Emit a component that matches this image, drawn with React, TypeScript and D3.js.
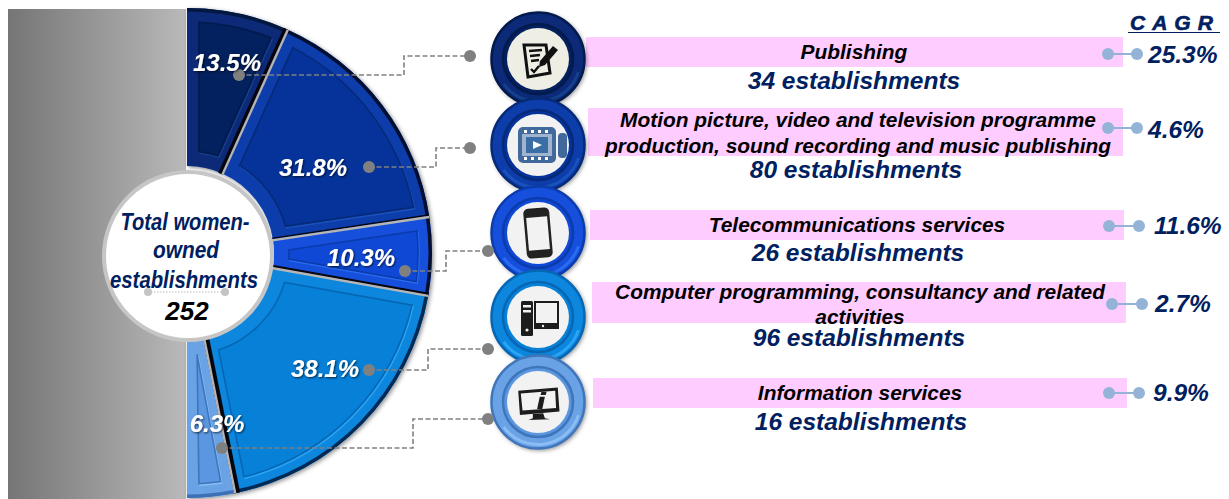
import React from 'react'
import * as d3 from 'd3'

// values
const sectors = ['Publishing', 'Motion picture', 'Telecommunications', 'Computer programming', 'Information services']
const shares = [13.5, 31.8, 10.3, 38.1, 6.3]
const titles = [
  ['Publishing'],
  ['Motion picture, video and television programme', 'production, sound recording and music publishing'],
  ['Telecommunications services'],
  ['Computer programming, consultancy and related', 'activities'],
  ['Information services'],
]
const counts = [34, 80, 26, 96, 16]
const cagr = ['25.3%', '4.6%', '11.6%', '2.7%', '9.9%']
const total = 252

// layout and styling, kept apart from the values
const colors = ['#04215f', '#06339a', '#0f48d4', '#0780d8', '#5b96e0']
const frames = ['#0a2c78', '#0a3eaa', '#1650dc', '#0a86de', '#6aa2e6']
const ringDark = ['#021a4c', '#062a78', '#0b3cae', '#0567b4', '#3f76bb']
const ringLight = ['#14408c', '#1a52bd', '#2a6cf0', '#2aa4f4', '#8bbcf4']
const rimColors = ['#03183f', '#020f30', '#020f30', '#032a55', '#3d70b5']
const edgeBlack = [5, 1.5, 2.5, 6]
const labelPos = [[227, 63], [313, 168], [361, 258], [325, 369], [217, 424]]
const dotPos = [[239, 75], [369, 167], [405, 271], [369, 370], [222, 448]]
const elbowX = [404, 436, 446, 428, 413]
const endPos = [[470, 56], [470, 148], [488, 251], [488, 349], [488, 419]]
const iconY = [59, 145, 233, 317, 402]
const barX = [586, 588, 590, 592, 593]
const barRight = [1123, 1123, 1124, 1126, 1127]
const barY = [37, 108, 210, 282, 378]
const barH = [30, 48, 30, 41, 30]
const titleX = [854, 858, 857, 860, 860]
const textY = [59, 127, 232, 299, 400]
const lineGap = [0, 26, 0, 25, 0]
const countY = [89, 178, 261, 346, 430]
const countX = [854, 856, 858, 859, 861]
const cagrY = [54, 128, 226, 304, 393]
const cagrX = [1108, 1108, 1109, 1112, 1109]
const cagrEnd = [1137, 1137, 1139, 1142, 1139]
const cagrTextX = [1148, 1148, 1154, 1155, 1153]
const cagrBase = [63, 138, 234, 312, 401]

const cx = 187
const cy = 253
const R = 245
const r0 = 84
const font = "'Liberation Sans', Arial, sans-serif"
const navy = '#002060'
const grey = '#808080'

function Icon({ i }: { i: number }) {
  if (i === 0) {
    return (
      <g stroke="#111" fill="none" strokeWidth={2.4}>
        <path d="M-14,-14 L8,-14 L12,14 L-10,18 Z" strokeWidth={3} />
        <path d="M-9,-8 L4,-9 M-8,-3 L2,-4 M-7,2 L1,1" />
        <path d="M-7,10 L-4,13 L1,7" />
        <path d="M2,2 L15,-13 L20,-9 L7,6 L1,8 Z" fill="#111" stroke="none" />
      </g>
    )
  }
  if (i === 1) {
    return (
      <g fill="#41699c">
        <rect x={-20} y={-18} width={38} height={36} rx={5} />
        <rect x={-16} y={-11} width={30} height={22} fill="#fff" opacity={0.5} />
        <rect x={-12} y={-8} width={22} height={16} fill="#3a6ea5" />
        <path d="M-5,-4 L4,0 L-5,4 Z" fill="#fff" />
        {[-14, -7, 0, 7].map(x => (
          <g key={x}>
            <rect x={x} y={-15} width={3} height={3} fill="#fff" />
            <rect x={x} y={12} width={3} height={3} fill="#fff" />
          </g>
        ))}
        <rect x={20} y={-12} width={9} height={25} rx={4} />
      </g>
    )
  }
  if (i === 2) {
    return (
      <g transform="rotate(-5)">
        <rect x={-13} y={-25} width={26} height={50} rx={5} fill="#222" />
        <rect x={-10.5} y={-16} width={21} height={33} fill="#f2f2f2" />
      </g>
    )
  }
  if (i === 3) {
    return (
      <g fill="#1c1c1c">
        <rect x={-17} y={-16} width={12} height={35} rx={1.5} />
        <rect x={-15} y={-12} width={8} height={2.5} fill="#f2f2f2" />
        <rect x={-15} y={-7} width={8} height={2.5} fill="#f2f2f2" />
        <circle cx={-11} cy={13} r={1.6} fill="#f2f2f2" />
        <path d="M-4,-16 H21 V12 H-4 Z M-2,-14 V6 H19 V-14 Z" fillRule="evenodd" />
        <circle cx={5} cy={9} r={1.2} fill="#f2f2f2" />
      </g>
    )
  }
  return (
    <g fill="#1c1c1c" transform="scale(0.86)">
      <path d="M-23,-13 L23,-17 L25,11 L-21,15 Z M-20,-10 L-18,10 L21,7 L20,-13 Z" fillRule="evenodd" />
      <path d="M-6,14 L6,13 L8,19 L14,20 L-11,21 L-6,19 Z" />
      <path d="M4,-12 L10,-12 L9,-8 L3,-8 Z M2,-6 L8,-6 L5,8 L-1,8 Z" />
    </g>
  )
}

export default function App() {
  const pie = d3.pie<number>().sort(null).startAngle(0).endAngle(Math.PI)
  const arcs = pie(shares)
  const slice = d3.arc<d3.PieArcDatum<number>>().innerRadius(r0 + 3).outerRadius(R)
  const rim = d3.arc<d3.PieArcDatum<number>>().innerRadius(R - 3.5).outerRadius(R)
  const panel = d3.arc<d3.PieArcDatum<number>>()
    .innerRadius(r0 + 18).outerRadius(R - 14).padAngle(0.13).padRadius(R * 0.75)
  const ring = d3.arc<any>()

  const edges = arcs.slice(0, -1).map(a => a.endAngle)

  return (
    <svg width={1229} height={499} style={{ position: 'absolute', left: 0, top: 0, background: '#fff' }}>
      <defs>
        <linearGradient id="side" x1="0" x2="1" y1="0" y2="0">
          <stop offset="0" stopColor="#757575" />
          <stop offset="1" stopColor="#b9b9b9" />
        </linearGradient>
        <filter id="soft" x="-20%" y="-20%" width="140%" height="140%">
          <feDropShadow dx={1.5} dy={1.5} stdDeviation={2} floodColor="#000" floodOpacity={0.45} />
        </filter>
        <filter id="txt" x="-20%" y="-30%" width="140%" height="160%">
          <feDropShadow dx={1} dy={1} stdDeviation={1} floodColor="#000" floodOpacity={0.7} />
        </filter>
      </defs>

      <rect x={8} y={9} width={178} height={490} fill="url(#side)" />

      <g transform={`translate(${cx},${cy})`}>
        <g filter="url(#soft)">
          {arcs.map((a, i) => (
            <path key={sectors[i]} d={slice(a) || ''} fill={frames[i]} />
          ))}
        </g>
        {arcs.map((a, i) => (
          <g key={sectors[i]}>
            <path d={rim(a) || ''} fill={rimColors[i]} />
            <path d={panel(a) || ''} fill="none" stroke={ringLight[i]} strokeWidth={1.6} transform="translate(1,1.5)" />
            <path d={panel(a) || ''} fill={colors[i]} stroke={ringDark[i]} strokeWidth={1.6} />
          </g>
        ))}
        {edges.map((e, i) => {
          const sx = Math.sin(e)
          const sy = -Math.cos(e)
          // the black side sits counter-clockwise of the grey hairline
          const ox = -Math.cos(e) * 2
          const oy = -Math.sin(e) * 2
          return (
            <g key={e}>
              <line x1={sx * (r0 + 2) + ox} y1={sy * (r0 + 2) + oy} x2={sx * R + ox} y2={sy * R + oy} stroke="#05060f" strokeWidth={edgeBlack[i]} />
              <line x1={sx * (r0 + 2)} y1={sy * (r0 + 2)} x2={sx * R} y2={sy * R} stroke="#b5b5b5" strokeWidth={2.4} />
            </g>
          )
        })}
      </g>

      {/* centre disc */}
      <circle cx={188} cy={256} r={84} fill="#fff" stroke="#c6c6c6" strokeWidth={4} />
      <g fill={navy} fontFamily={font} fontWeight={700} fontStyle="italic" fontSize={23} textAnchor="middle">
        <text x={185} y={230} textLength={129} lengthAdjust="spacingAndGlyphs">Total women-</text>
        <text x={186} y={258} textLength={66} lengthAdjust="spacingAndGlyphs">owned</text>
        <text x={184} y={288} textLength={148} lengthAdjust="spacingAndGlyphs">establishments</text>
      </g>
      <line x1={148} x2={225} y1={292} y2={292} stroke="#bbb" strokeWidth={1.2} strokeDasharray="1.5 1.5" />
      <circle cx={148} cy={292} r={4} fill="#c4c4c4" />
      <circle cx={225} cy={292} r={4} fill="#c4c4c4" />
      <text x={187} y={320} fill="#000" fontFamily={font} fontWeight={700} fontStyle="italic" fontSize={26} textAnchor="middle">{total}</text>

      {/* pink bars */}
      {barX.map((x, i) => (
        <rect key={x} x={x} y={barY[i]} width={barRight[i] - x} height={barH[i]} fill="#ffccff" />
      ))}

      {/* icon medallions */}
      {iconY.map((y, i) => (
        <g key={y} transform={`translate(538,${y})`}>
          <circle r={47} fill={frames[i]} filter="url(#soft)" />
          <circle r={46.5} fill="none" stroke={ringDark[i]} strokeWidth={2.5} />
          <path d={ring({ innerRadius: 41, outerRadius: 44, startAngle: Math.PI * 0.6, endAngle: Math.PI * 1.3 }) || ''} fill={ringLight[i]} />
          <circle r={35} fill={colors[i]} stroke={ringDark[i]} strokeWidth={2.5} />
          <circle r={31} fill={i === 0 ? '#efeee4' : '#f2f2f2'} />
          <Icon i={i} />
        </g>
      ))}

      {/* leader lines */}
      {dotPos.map(([x, y], i) => (
        <g key={x + '-' + y}>
          <path
            d={`M${x},${y} H${elbowX[i]} V${endPos[i][1]} H${endPos[i][0]}`}
            fill="none" stroke={grey} strokeWidth={1.6} strokeDasharray="5 2.5"
          />
          <circle cx={x} cy={y} r={6} fill={grey} />
          <circle cx={endPos[i][0]} cy={endPos[i][1]} r={6} fill={grey} />
        </g>
      ))}

      {/* percent labels */}
      {labelPos.map(([x, y], i) => (
        <text key={x} x={x} y={y + 8} fill="#fff" filter="url(#txt)" fontFamily={font} fontWeight={700} fontStyle="italic" fontSize={24} textAnchor="middle">
          {shares[i].toFixed(1)}%
        </text>
      ))}

      {/* titles and counts */}
      {titles.map((lines, i) => (
        <g key={sectors[i]} fontFamily={font} fontWeight={700} fontStyle="italic" textAnchor="middle">
          {lines.map((line, k) => (
            <text key={line} x={titleX[i]} y={textY[i] + k * lineGap[i]} fontSize={20.9} fill="#000">{line}</text>
          ))}
          <text x={countX[i]} y={countY[i]} fontSize={24.5} fill={navy}>{counts[i]} establishments</text>
        </g>
      ))}

      {/* CAGR column */}
      <text x={1130} y={30} fill={navy} stroke={navy} strokeWidth={0.6} fontFamily={font} fontWeight={700} fontStyle="italic" fontSize={21} letterSpacing={7}>CAGR</text>
      <line x1={1128} x2={1220} y1={32.5} y2={32.5} stroke={navy} strokeWidth={1.2} />
      {cagr.map((v, i) => (
        <g key={v}>
          <line x1={cagrX[i]} x2={cagrEnd[i]} y1={cagrY[i]} y2={cagrY[i]} stroke="#95b3d7" strokeWidth={2} />
          <circle cx={cagrX[i]} cy={cagrY[i]} r={6} fill="#95b3d7" />
          <circle cx={cagrEnd[i]} cy={cagrY[i]} r={6} fill="#95b3d7" />
          <text x={cagrTextX[i]} y={cagrBase[i]} fill={navy} fontFamily={font} fontWeight={700} fontStyle="italic" fontSize={24.5}>{v}</text>
        </g>
      ))}
    </svg>
  )
}
